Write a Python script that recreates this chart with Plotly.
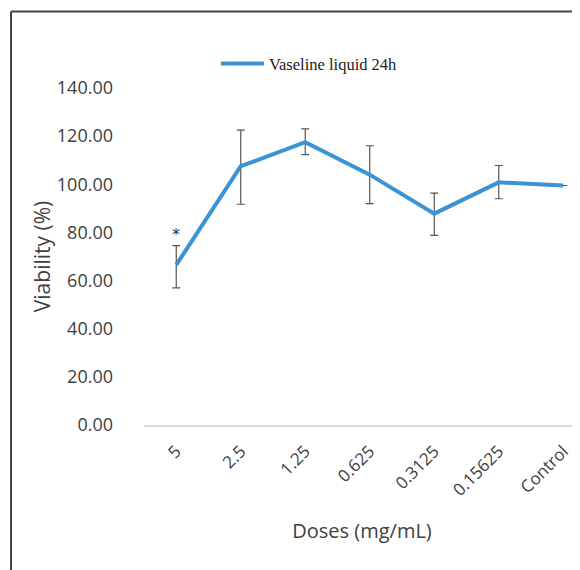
import plotly.graph_objects as go

doses = ["5", "2.5", "1.25", "0.625", "0.3125", "0.15625", "Control"]
viability = [66.5, 107.5, 117.5, 104.0, 87.8, 100.8, 99.5]
err_plus = [8.0, 15.0, 5.5, 12.0, 8.5, 7.0, 0]
err_minus = [9.5, 15.8, 5.2, 12.0, 9.0, 6.8, 0]
y_ticks = [0, 20, 40, 60, 80, 100, 120, 140]
y_tick_labels = ["0.00", "20.00", "40.00", "60.00", "80.00", "100.00", "120.00", "140.00"]
series_name = "Vaseline liquid 24h"
star_label = "*"
star_index = 0
star_y = 79

fig = go.Figure()
fig.add_trace(go.Scatter(
    x=doses, y=viability, mode="lines", name=series_name,
    line=dict(color="#3a93d4", width=4),
    error_y=dict(type="data", symmetric=False, array=err_plus, arrayminus=err_minus,
                 color="#555555", thickness=1.2, width=4),
))
fig.add_annotation(x=star_index, y=star_y, text=star_label, showarrow=False,
                   font=dict(family="DejaVu Sans", size=16, color="#333333"))

tick_font = dict(family="Open Sans", size=18, color="#404040")
title_font = dict(family="Open Sans", size=20, color="#404040")
fig.update_layout(
    width=580, height=570,
    margin=dict(l=136, r=8, t=80, b=153),
    paper_bgcolor="white", plot_bgcolor="white",
    showlegend=True,
    legend=dict(x=0.165, y=1.072, xanchor="left", yanchor="middle",
                font=dict(family="Liberation Serif", size=16.5, color="#222222"),
                bgcolor="rgba(0,0,0,0)", itemwidth=43),
    xaxis=dict(type="category", range=[-0.5, 6.26], showgrid=False, zeroline=False,
               showline=True, linecolor="#d9d9d9", linewidth=1.5,
               tickangle=-45, tickfont=dict(family="Open Sans", size=17, color="#404040"), ticks="",
               ticklabelstandoff=8,
               title=dict(text="Doses (mg/mL)", font=title_font, standoff=24)),
    yaxis=dict(range=[0, 140], tickvals=y_ticks, ticktext=y_tick_labels,
               showgrid=False, zeroline=False, showline=False, ticks="",
               tickfont=tick_font, ticklabelstandoff=30,
               title=dict(text="Viability (%)", font=dict(family="Open Sans", size=21, color="#404040"), standoff=0)),
    shapes=[
        dict(type="line", xref="paper", yref="paper", x0=-0.305, x1=1.05, y0=1.227, y1=1.227,
             line=dict(color="#444444", width=2)),
        dict(type="line", xref="paper", yref="paper", x0=-0.305, x1=-0.305, y0=1.227, y1=-0.5,
             line=dict(color="#444444", width=2)),
    ],
)
fig.write_html("out.html")
